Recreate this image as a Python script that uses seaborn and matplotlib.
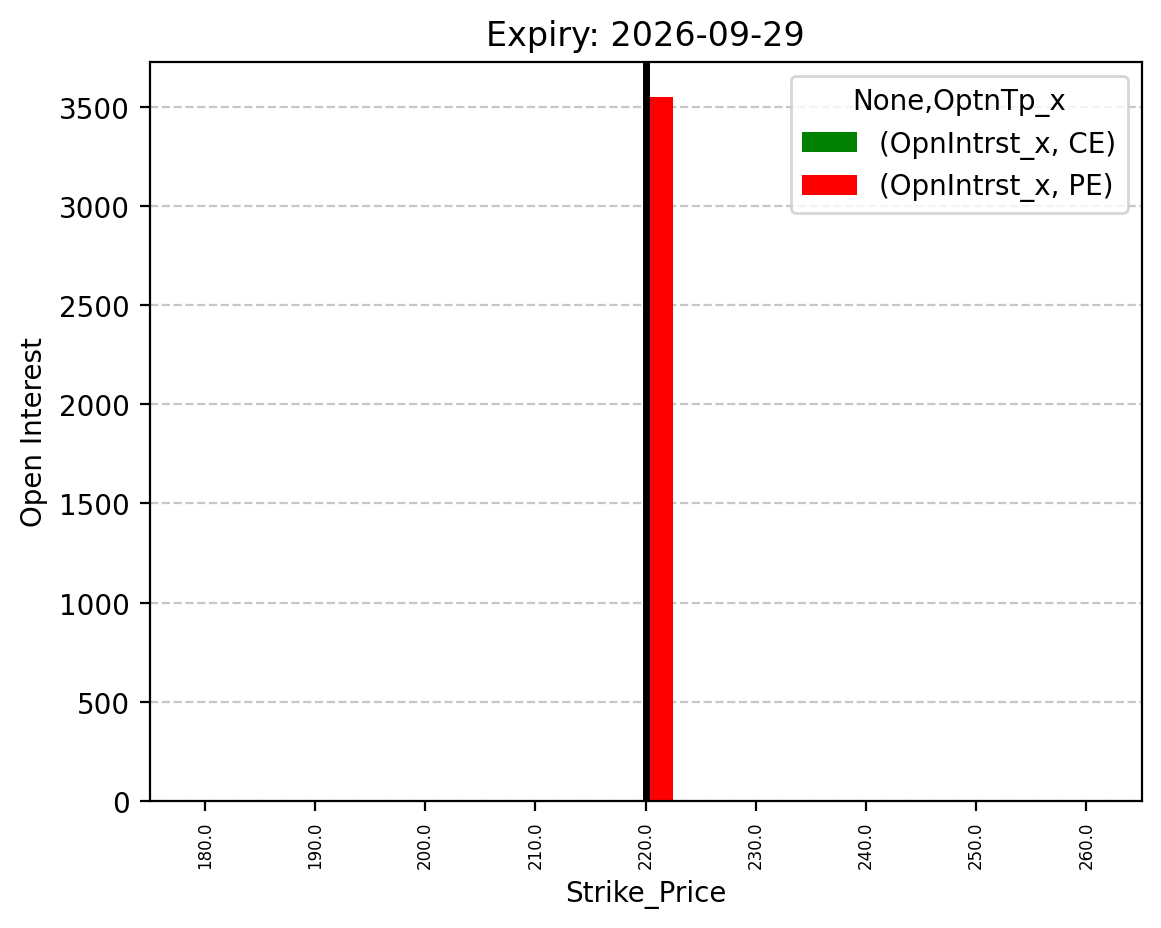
import numpy as np
import pandas as pd
import seaborn as sns
import matplotlib.pyplot as plt

# strike prices and open interest per option type
strikes = ["180.0", "190.0", "200.0", "210.0", "220.0", "230.0", "240.0", "250.0", "260.0"]
oi_ce = [0, 0, 0, 0, 0, 0, 0, 0, 0]
oi_pe = [0, 0, 0, 0, 3550, 0, 0, 0, 0]
spot_strike = "220.0"
expiry = "2026-09-29"

df = pd.concat([
    pd.DataFrame({"Strike_Price": strikes, "oi": oi_ce, "series": "(OpnIntrst_x, CE)"}),
    pd.DataFrame({"Strike_Price": strikes, "oi": oi_pe, "series": "(OpnIntrst_x, PE)"}),
], ignore_index=True)

fig, ax = plt.subplots(figsize=(6.4, 4.8), dpi=200)
sns.barplot(data=df, x="Strike_Price", y="oi", hue="series", order=strikes,
            palette=["green", "red"], saturation=1, width=0.5, errorbar=None,
            linewidth=0, ax=ax)

ax.axvline(strikes.index(spot_strike), color="black", linewidth=2.5)
ax.grid(axis="y", linestyle="--", alpha=0.7)
ax.set_axisbelow(True)
ax.tick_params(axis="x", labelrotation=90, labelsize=6)
ax.set_xlabel("Strike_Price")
ax.set_ylabel("Open Interest")
ax.set_title(f"Expiry: {expiry}")
ax.legend(title="None,OptnTp_x", loc="upper right")

plt.savefig("out.png", dpi=200, bbox_inches="tight")
